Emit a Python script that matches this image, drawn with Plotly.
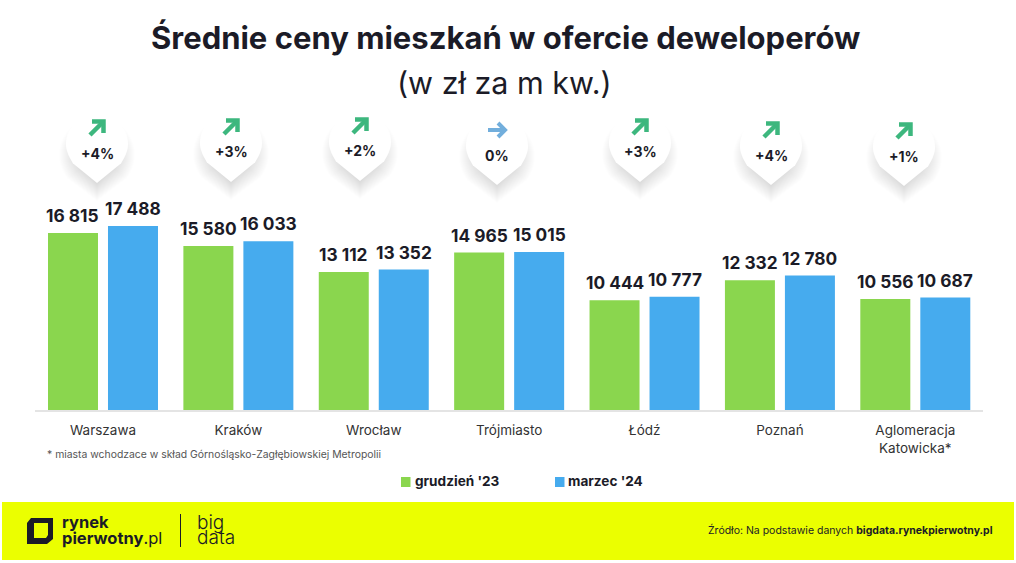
import plotly.graph_objects as go

W, H = 1016, 563
FONT = "Inter"
DARK = "#1b1b27"

cities = ["Warszawa", "Kraków", "Wrocław", "Trójmiasto", "Łódź", "Poznań", "Aglomeracja<br>Katowicka*"]
dec23 = [16815, 15580, 13112, 14965, 10444, 12332, 10556]
mar24 = [17488, 16033, 13352, 15015, 10777, 12780, 10687]
changes = ["+4%", "+3%", "+2%", "0%", "+3%", "+4%", "+1%"]
name_dec = "grudzień '23"
name_mar = "marzec '24"
GREEN, BLUE = "#8AD64E", "#46ABEE"
ARROW_UP, ARROW_FLAT = "#3DB77E", "#72AEDC"
YELLOW = "#EBFF00"

# decoration placement (pixels)
pin_x = [97, 231, 360, 497, 640, 771, 904]
pin_dy = [0, -1, -2, 2, -1, 2, 3]


def fmt(v):
    return f"{v:,}".replace(",", " ")


def px(x):
    return x / W


def py(y):
    return 1 - y / H


def P(x, y):
    return f"{px(x):.5f},{py(y):.5f}"


def pin_path(cx, top, r=31, tip=70, grow=0):
    r += grow
    c = top + 31
    k = 0.5523 * r
    tx = 0.78 * r
    ty = c + 0.62 * r
    return (
        f"M{P(cx, top + tip + grow)} L{P(cx - tx, ty)} "
        f"C{P(cx - r + 2, ty - 8)} {P(cx - r, c + 6)} {P(cx - r, c)} "
        f"C{P(cx - r, c - k)} {P(cx - k, c - r)} {P(cx, c - r)} "
        f"C{P(cx + k, c - r)} {P(cx + r, c - k)} {P(cx + r, c)} "
        f"C{P(cx + r, c + 6)} {P(cx + r - 2, ty - 8)} {P(cx + tx, ty)} Z"
    )


shapes = []
annotations = []


def note(x, y, text, size, color=DARK, anchor="center", weight=None, family=FONT):
    annotations.append(dict(
        xref="paper", yref="paper", x=px(x), y=py(y), text=text, showarrow=False,
        xanchor=anchor, yanchor="middle", align=anchor,
        font=dict(family=family, size=size, color=color, weight=weight),
    ))


def path(d, fill=None, line=None, width=0, opacity=1):
    shapes.append(dict(
        type="path", xref="paper", yref="paper", path=d, layer="above", opacity=opacity,
        fillcolor=fill if fill else "rgba(0,0,0,0)",
        line=dict(color=line if line else "rgba(0,0,0,0)", width=width),
    ))


# pins with soft shadow, arrow and change text
for cx, dy, label in zip(pin_x, pin_dy, changes):
    top = 113 + dy
    for grow in range(-10, 8):
        path(pin_path(cx, top + 11, grow=grow), fill="#000000", opacity=0.009)
    path(pin_path(cx, top), fill="#ffffff")
    ay = top + 15
    if label == "0%":
        path(f"M{P(cx - 9, ay)} L{P(cx + 7, ay)}", line=ARROW_FLAT, width=4)
        path(f"M{P(cx + 1, ay - 7)} L{P(cx + 8, ay)} L{P(cx + 1, ay + 7)}", line=ARROW_FLAT, width=4)
    else:
        path(f"M{P(cx - 7, ay + 7)} L{P(cx + 6, ay - 6)}", line=ARROW_UP, width=4.5)
        path(f"M{P(cx - 5, ay - 6.5)} L{P(cx + 6.5, ay - 6.5)} L{P(cx + 6.5, ay + 5)}", line=ARROW_UP, width=4.5)
    note(cx, top + 40, f"<b>{label}</b>", 14)

# titles
note(505, 38, "<b>Średnie ceny mieszkań w ofercie deweloperów</b>", 31)
note(504, 83, "(w zł za m kw.)", 30.5)

# footnote
note(45, 455, "* miasta wchodzace w skład Górnośląsko-Zagłębiowskiej Metropolii", 10.4, color="#555555", anchor="left")

# key
path(f"M{P(401, 477)} L{P(410.5, 477)} L{P(410.5, 487)} L{P(401, 487)} Z", fill=GREEN)
note(413, 481, f"<b>{name_dec}</b>", 13.6, anchor="left")
path(f"M{P(555, 477)} L{P(564.5, 477)} L{P(564.5, 487)} L{P(555, 487)} Z", fill=BLUE)
note(566, 481, f"<b>{name_mar}</b>", 13.6, anchor="left")

# footer band
shapes.append(dict(type="rect", xref="paper", yref="paper", layer="below",
                   x0=px(2), x1=px(1014), y0=py(560), y1=py(502),
                   fillcolor=YELLOW, line=dict(width=0)))
path(
    f"M{P(31, 518)} L{P(53, 518)} L{P(53, 539)} L{P(47, 544)} L{P(27, 544)} L{P(27, 523)} Z "
    f"M{P(34, 523)} L{P(34, 538)} L{P(46, 538)} L{P(48, 535)} L{P(48, 523)} Z",
    fill=DARK,
)
note(60, 522, "<b>rynek</b>", 16.5, anchor="left")
note(60, 538, "<b>pierwotny</b>.pl", 16.5, anchor="left")
path(f"M{P(180.5, 514)} L{P(180.5, 547)}", line=DARK, width=1)
note(195, 522, "big", 19, anchor="left", weight=300)
note(195, 537, "data", 19, anchor="left", weight=300)
note(995, 530, "Źródło: Na podstawie danych <b>bigdata.rynekpierwotny.pl</b>", 10.5, anchor="right")

fig = go.Figure()
for name, vals, color, shift in [(name_dec, dec23, GREEN, -30), (name_mar, mar24, BLUE, 30)]:
    fig.add_trace(go.Bar(
        name=name, x=cities, y=vals, marker=dict(color=color, line=dict(width=0)),
        hovertemplate="%{x}: %{y}<extra>" + name + "</extra>",
    ))
    for c, v in zip(cities, vals):
        annotations.append(dict(
            xref="x", yref="y", x=c, y=v, xshift=shift, yshift=5, yanchor="bottom",
            text=f"<b>{fmt(v)}</b>", showarrow=False,
            font=dict(family=FONT, size=17.3, color=DARK),
        ))

fig.update_layout(
    width=W, height=H, autosize=False,
    margin=dict(l=0, r=0, t=0, b=0),
    paper_bgcolor="#ffffff", plot_bgcolor="#ffffff",
    barmode="group", bargap=0.1137, bargroupgap=0.1667,
    showlegend=False,
    xaxis=dict(
        domain=[35.3 / W, 983 / W], type="category", showgrid=False, ticks="",
        showline=True, linecolor="#e4e4e4", linewidth=1.5, zeroline=False,
        tickfont=dict(family=FONT, size=13.5, color="#333333"), ticklabelstandoff=7,
    ),
    yaxis=dict(
        domain=[py(410), py(110)], range=[0, 300 / 0.01052], visible=False,
        showgrid=False, zeroline=False,
    ),
    shapes=shapes, annotations=annotations,
)
fig.write_html("out.html", config=dict(displayModeBar=False),
               post_script="document.body.style.margin='0';")
